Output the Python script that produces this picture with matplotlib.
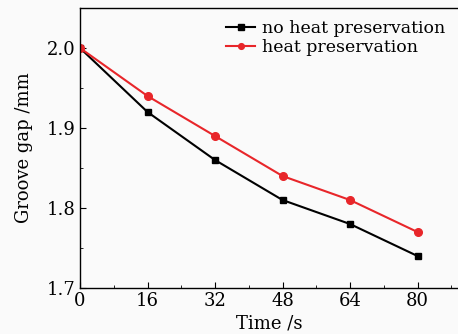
import matplotlib
matplotlib.use("Agg")
import matplotlib.pyplot as plt
from matplotlib.ticker import MultipleLocator

time_s = [0, 16, 32, 48, 64, 80]
no_heat = [2.00, 1.92, 1.86, 1.81, 1.78, 1.74]
heat = [2.00, 1.94, 1.89, 1.84, 1.81, 1.77]
xticks = [0, 16, 32, 48, 64, 80]
yticks = [1.7, 1.8, 1.9, 2.0]

plt.rcParams['font.family'] = ['DejaVu Serif']
fig = plt.figure(figsize=(4.58, 3.34), dpi=100, facecolor='#fafafa')
ax = fig.add_axes([0.1747, 0.1377, 0.8253, 0.8383])
ax.set_facecolor('#fafafa')

ax.plot(time_s, no_heat, color='black', marker='s', markersize=5, lw=1.5, label='no heat preservation')
ax.plot(time_s, heat, color='#e8262a', marker='o', markersize=5.5, lw=1.5, label='heat preservation')

ax.set_xlim(0, 89.6)
ax.set_ylim(1.7, 2.05)
ax.set_xticks(xticks)
ax.set_yticks(yticks)
ax.xaxis.set_minor_locator(MultipleLocator(8))
ax.yaxis.set_minor_locator(MultipleLocator(0.05))
ax.tick_params(which='both', direction='in', labelsize=13)
ax.tick_params(which='major', length=4, pad=3)
ax.tick_params(which='minor', length=2.5)
ax.spines['right'].set_visible(False)
for s in ['left', 'bottom', 'top']:
    ax.spines[s].set_linewidth(1.0)

ax.set_xlabel('Time /s', fontsize=13, labelpad=3)
ax.set_ylabel('Groove gap /mm', fontsize=13, labelpad=10)

leg = ax.legend(loc='upper right', frameon=False, fontsize=12.5, handlelength=1.7,
                borderaxespad=0.2, labelspacing=0.15, handletextpad=0.4,
                markerscale=0.75, bbox_to_anchor=(0.995, 0.995))

fig.savefig('out.png', dpi=100, facecolor=fig.get_facecolor())
